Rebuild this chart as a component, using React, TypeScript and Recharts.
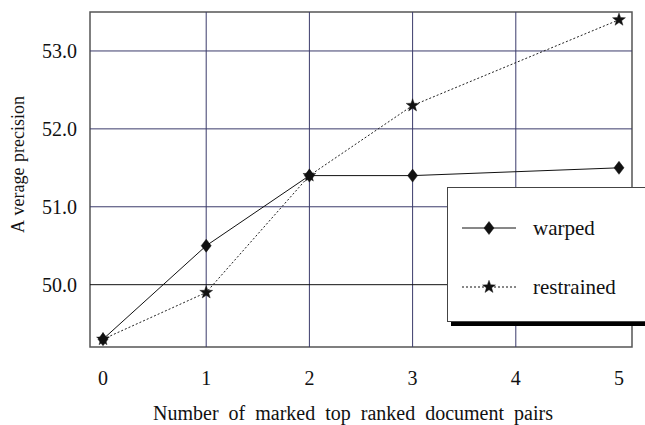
import React from "react";
import {
  LineChart,
  Line,
  XAxis,
  YAxis,
  ReferenceLine,
  ReferenceArea,
} from "recharts";

const pairs = [0, 1, 2, 3, 5];
const warped = [49.3, 50.5, 51.4, 51.4, 51.5];
const restrained = [49.3, 49.9, 51.4, 52.3, 53.4];
const xTicks = [0, 1, 2, 3, 4, 5];
const yTicks = [50, 51, 52, 53];
const gridX = [1, 2, 3, 4];
const gridY = [51, 52, 53];
const seriesNames = ["warped", "restrained"];

const chartData = pairs.map((p, i) => ({
  pairs: p,
  warped: warped[i],
  restrained: restrained[i],
}));

const FONT = "'Liberation Serif', 'Times New Roman', serif";
const NAVY = "#3b3b6b";
const X_DOMAIN: [number, number] = [-0.126, 5.126];
const Y_DOMAIN: [number, number] = [49.2, 53.5];
const tickStyle = { fontFamily: FONT, fontSize: 20, fill: "#111" };

function Diamond({ cx, cy }: { cx: number; cy: number }) {
  return (
    <path
      d={`M${cx},${cy - 6.5} L${cx + 5},${cy} L${cx},${cy + 6.5} L${cx - 5},${cy} Z`}
      fill="#111"
      stroke="#111"
      strokeWidth={0.5}
    />
  );
}

function Star({ cx, cy }: { cx: number; cy: number }) {
  const outer = 6.8;
  const inner = 2.8;
  let d = "";
  for (let i = 0; i < 10; i++) {
    const r = i % 2 === 0 ? outer : inner;
    const a = -Math.PI / 2 + (i * Math.PI) / 5;
    d += (i === 0 ? "M" : "L") + (cx + r * Math.cos(a)).toFixed(2) + "," + (cy + r * Math.sin(a)).toFixed(2);
  }
  return <path d={d + "Z"} fill="#111" stroke="#111" strokeWidth={0.4} />;
}

const diamondDot = (props: any) => (
  <Diamond key={`d-${props.index}`} cx={props.cx} cy={props.cy} />
);
const starDot = (props: any) => (
  <Star key={`s-${props.index}`} cx={props.cx} cy={props.cy} />
);

function LegendBox() {
  const textStyle = { fontFamily: FONT, fontSize: 21, fill: "#111" };
  return (
    <div
      style={{
        position: "absolute",
        left: 447,
        top: 187,
        width: 198,
        height: 135,
        boxSizing: "border-box",
        background: "#fff",
        border: "1px solid #444",
        borderRight: "none",
        boxShadow: "4px 4px 0 #000",
      }}
    >
      <svg width={197} height={133} style={{ display: "block" }}>
        <line x1={14} x2={68} y1={40} y2={40} stroke="#111" strokeWidth={1} />
        <Diamond cx={41} cy={40} />
        <text x={85} y={47} style={textStyle}>
          {seriesNames[0]}
        </text>
        <line x1={14} x2={68} y1={99} y2={99} stroke="#111" strokeWidth={1} strokeDasharray="2 2" />
        <Star cx={41} cy={99} />
        <text x={85} y={106} style={textStyle}>
          {seriesNames[1]}
        </text>
      </svg>
    </div>
  );
}

export default function App() {
  return (
    <div
      style={{
        position: "absolute",
        left: 0,
        top: 0,
        width: 645,
        height: 425,
        background: "#fff",
        overflow: "hidden",
      }}
    >
      <LineChart
        width={645}
        height={425}
        data={chartData}
        margin={{ top: 12, right: 13, left: 0, bottom: 0 }}
        style={{ fontFamily: FONT }}
      >
        <XAxis
          dataKey="pairs"
          type="number"
          domain={X_DOMAIN}
          ticks={xTicks}
          allowDataOverflow
          axisLine={false}
          tickLine={false}
          tickSize={0}
          tickMargin={24}
          height={78}
          tick={{ style: tickStyle }}
          label={{
            value: "Number of  marked  top ranked  document  pairs",
            position: "insideBottom",
            offset: 5,
            dx: -8,
            style: { fontFamily: FONT, fontSize: 20, fill: "#111", whiteSpace: "pre", wordSpacing: 5 },
          }}
        />
        <YAxis
          type="number"
          domain={Y_DOMAIN}
          ticks={yTicks}
          allowDataOverflow
          axisLine={false}
          tickLine={false}
          tickSize={0}
          tickMargin={13}
          width={90}
          tickFormatter={(v: number) => v.toFixed(1)}
          tick={{ style: tickStyle }}
          label={{
            value: "A verage  precision",
            angle: -90,
            position: "center",
            dx: -27,
            dy: -15,
            style: { fontFamily: FONT, fontSize: 18, fill: "#111", whiteSpace: "pre", wordSpacing: 1 },
          }}
        />
        {gridX.map((x) => (
          <ReferenceLine key={`gx-${x}`} x={x} stroke={NAVY} strokeWidth={1} />
        ))}
        {gridY.map((y) => (
          <ReferenceLine key={`gy-${y}`} y={y} stroke={NAVY} strokeWidth={1} />
        ))}
        <ReferenceLine y={50} stroke="#111" strokeWidth={1} />
        <ReferenceArea
          x1={X_DOMAIN[0]}
          x2={X_DOMAIN[1]}
          y1={Y_DOMAIN[0]}
          y2={Y_DOMAIN[1]}
          fill="none"
          fillOpacity={0}
          stroke="#555"
          strokeWidth={1.5}
          strokeOpacity={1}
        />
        <Line
          type="linear"
          dataKey="warped"
          stroke="#111"
          strokeWidth={1}
          dot={diamondDot}
          activeDot={false}
          isAnimationActive={false}
        />
        <Line
          type="linear"
          dataKey="restrained"
          stroke="#222"
          strokeWidth={1}
          strokeDasharray="2 2"
          dot={starDot}
          activeDot={false}
          isAnimationActive={false}
        />
      </LineChart>
      <LegendBox />
    </div>
  );
}
